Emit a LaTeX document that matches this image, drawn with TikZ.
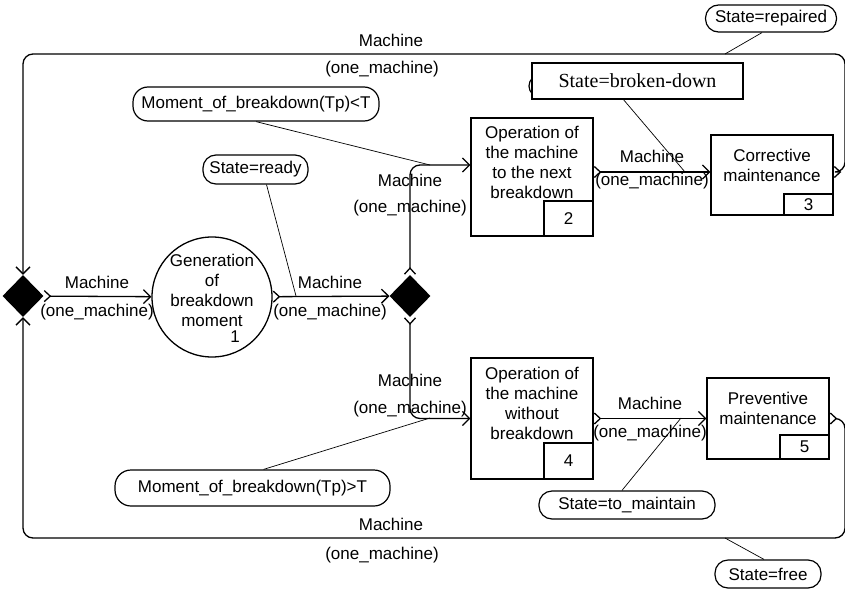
\documentclass[tikz,border=0pt]{standalone}
\usepackage{fontspec}
\setmainfont{Liberation Sans}
\newfontfamily\serifrm{Liberation Serif}
\usetikzlibrary{arrows.meta,shapes.geometric,calc}
\begin{document}
\begin{tikzpicture}[x=1pt,y=-1pt,
  font=\fontsize{17}{20}\selectfont,
  box/.style={draw,line width=1.3pt,inner sep=0pt},
  numbox/.style={draw,line width=1.3pt,minimum width=49pt,inner sep=0pt,anchor=south east},
  cond/.style={draw,line width=1.2pt,rounded corners=13pt,inner sep=0pt,fill=white},
  dia/.style={diamond,fill=black,inner sep=0pt,minimum width=41pt,minimum height=42pt},
  flow/.style={line width=1.3pt,rounded corners=10pt,
     {Straight Barb[reversed,length=6pt,width=11pt]}-{Straight Barb[length=7pt,width=14pt]}},
  link/.style={line width=0.7pt},
  txt/.style={inner sep=0pt,align=center}
]
\useasboundingbox (0,0) rectangle (845,589);

% decision diamonds
\node[dia] (dL) at (23,296) {};
\node[dia] (dR) at (410,296) {};

% activities
\node[circle,draw,line width=1.3pt,minimum size=120pt,inner sep=0pt] (gen) at (212,297) {};
\node[txt,anchor=north] (gent) at (212,253.5) {Generation\\of\\breakdown\\moment};
\node[txt] (gen1) at (235,337) {1};

\node[box,minimum width=122pt,minimum height=118pt] (op2) at (532,177) {};
\node[txt,anchor=north] (op2t) at (532,125.5) {Operation of\\the machine\\to the next\\breakdown};
\node[numbox,minimum height=35pt] (n2) at (op2.south east) {2};

\node[box,minimum width=122pt,minimum height=80pt] (cor) at (772,175) {};
\node[txt,anchor=north] (cort) at (772,148.5) {Corrective\\maintenance};
\node[numbox,minimum height=21pt] (n3) at (cor.south east) {3};

\node[box,minimum width=122pt,minimum height=121pt] (op4) at (532,418.5) {};
\node[txt,anchor=north] (op4t) at (532,366.5) {Operation of\\the machine\\without\\breakdown};
\node[numbox,minimum height=36pt] (n4) at (op4.south east) {4};

\node[box,minimum width=122pt,minimum height=81pt] (prev) at (768,418.5) {};
\node[txt,anchor=north] (prevt) at (768,391.5) {Preventive\\maintenance};
\node[numbox,minimum height=24pt] (n5) at (prev.south east) {5};

% corner points of the return loops
\coordinate (TR) at (845,54);
\coordinate (BR) at (845,538);

% flows
\draw[flow] (dL) -- (gen);
\draw[flow] (gen) -- (dR);
\draw[flow] (dR.north) |- ([yshift=12pt]op2.west);
\draw[flow] (dR.south) |- (op4.west);
\draw[flow] ([yshift=5pt]op2.east) -- ([yshift=5pt]op2.east -| cor.west);
\draw[flow] (op4.east) -- (op4.east -| prev.west);
\draw[flow] ([yshift=3pt]cor.east) -| (TR) -| (dL.north);
\draw[flow] (prev.east) -| (BR) -| (dL.south);

% flow labels
\node[txt] (m1) at (97,282) {Machine};
\node[txt] (o1) at (97,312) {(one\_machine)};
\node[txt] (m2) at (330,282) {Machine};
\node[txt] (o2) at (330,312) {(one\_machine)};
\node[txt] (m3) at (410,180) {Machine};
\node[txt] (o3) at (410,208) {(one\_machine)};
\node[txt] (m4) at (410,380) {Machine};
\node[txt] (o4) at (410,409) {(one\_machine)};
\node[txt] (m5) at (652,156) {Machine};
\node[txt] (o5) at (652,181) {(one\_machine)};
\node[txt] (m6) at (650,403) {Machine};
\node[txt] (o6) at (650,433) {(one\_machine)};
\node[txt] (m7) at (391,40) {Machine};
\node[txt] (o7) at (382,69) {(one\_machine)};
\node[txt] (m8) at (391,524) {Machine};
\node[txt] (o8) at (382,555) {(one\_machine)};

% conditions
\node[cond,minimum width=211pt,minimum height=22pt,rounded corners=11pt] (brokenbg) at (634.5,86) {};
\node[draw,line width=1.3pt,fill=white,minimum width=211pt,minimum height=36pt,inner sep=0pt,font=\serifrm\fontsize{20}{24}\selectfont] (broken) at (637.5,81) {State=broken-down};
\node[cond,minimum width=131pt,minimum height=27pt] (repaired) at (771,18.5) {State=repaired};
\node[cond,minimum width=246pt,minimum height=34pt,rounded corners=15pt] (lessT) at (256,104) {Moment\_of\_breakdown(Tp)<T};
\node[cond,minimum width=105pt,minimum height=29pt] (ready) at (255.5,169.5) {State=ready};
\node[cond,minimum width=275pt,minimum height=36pt,rounded corners=16pt] (moreT) at (252.5,488) {Moment\_of\_breakdown(Tp)>T};
\node[cond,minimum width=176pt,minimum height=28pt] (maintain) at (627,505) {State=to\_maintain};
\node[cond,minimum width=106pt,minimum height=28pt] (free) at (768,574) {State=free};

% attachment points of conditions
\coordinate (c1) at (430,165);
\coordinate (c2) at (296,296);
\coordinate (c3) at (430,418);
\coordinate (c4) at (685,172);
\coordinate (c5) at (681,418);
\coordinate (c6) at (725,54);
\coordinate (c7) at (725,538);

\draw[link] (lessT.south) -- (c1);
\draw[link] ([xshift=11pt]ready.south) -- (c2);
\draw[link] ([xshift=11pt]moreT.north) -- (c3);
\draw[link] ([xshift=-14pt]broken.south) -- (c4);
\draw[link] ([xshift=-5pt]maintain.north) -- (c5);
\draw[link] ([xshift=-9pt]repaired.south) -- (c6);
\draw[link] ([xshift=-4pt]free.north) -- (c7);
\end{tikzpicture}
\end{document}
